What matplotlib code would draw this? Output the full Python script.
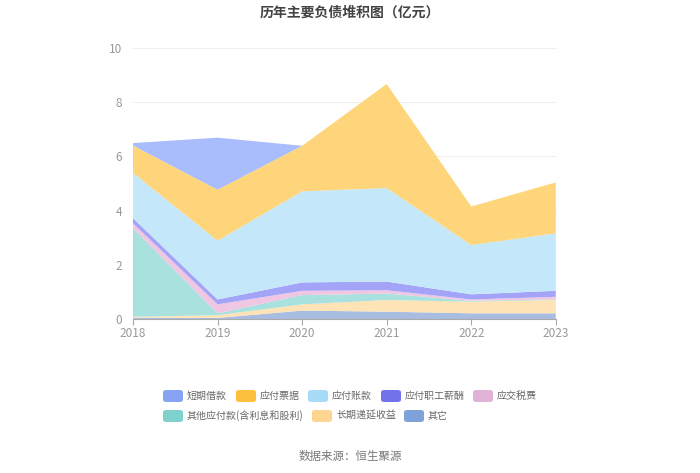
import numpy as np
import matplotlib
matplotlib.use('Agg')
import matplotlib.pyplot as plt
from matplotlib.patches import FancyBboxPatch

plt.rcParams['font.family'] = ['Noto Sans CJK SC', 'DejaVu Sans']

# 年份与各项负债（亿元），从下往上堆叠
anos = [2018, 2019, 2020, 2021, 2022, 2023]
qita = [0.05, 0.04, 0.31, 0.27, 0.21, 0.21]
diyan = [0.03, 0.10, 0.23, 0.43, 0.43, 0.49]
qita_yingfu = [3.27, 0.07, 0.34, 0.24, 0.03, 0.02]
shuifei = [0.18, 0.33, 0.16, 0.12, 0.05, 0.10]
xinchou = [0.19, 0.18, 0.31, 0.32, 0.19, 0.22]
zhangkuan = [1.67, 2.17, 3.36, 3.45, 1.82, 2.12]
piaoju = [1.01, 1.88, 1.68, 3.84, 1.42, 1.88]
duanqi = [0.09, 1.92, 0.0, 0.0, 0.0, 0.0]

nomes = ['其它', '长期递延收益', '其他应付款(含利息和股利)', '应交税费',
         '应付职工薪酬', '应付账款', '应付票据', '短期借款']
series = [qita, diyan, qita_yingfu, shuifei, xinchou, zhangkuan, piaoju, duanqi]
cores_area = ['#a8bde0', '#fde3b5', '#a9e1de', '#efc7e3',
              '#a3a3f7', '#c4e8fa', '#fed57a', '#a9bcfb']
cores_leg = ['#80a2d8', '#fdd591', '#7fd1cd', '#e1b3d9',
             '#7272ea', '#a6dcf8', '#fcc03e', '#86a3f4']

fig = plt.figure(figsize=(7.0, 4.73), dpi=100)
ax = fig.add_axes([0.19, 0.3256, 0.604, 0.573])

ax.stackplot(anos, *series, colors=cores_area, linewidth=0)

ax.set_xlim(2018, 2023)
ax.set_ylim(0, 10)
ax.set_xticks(anos)
ax.set_yticks([0, 2, 4, 6, 8, 10])
ax.grid(axis='y', color='#eeeeee', linewidth=0.8)
ax.set_axisbelow(True)
for s in ['top', 'right', 'left']:
    ax.spines[s].set_visible(False)
ax.spines['bottom'].set_color('#aaaaaa')
ax.tick_params(axis='y', length=0, labelcolor='#999999', labelsize=8.5, pad=8)
ax.tick_params(axis='x', length=4, color='#aaaaaa', labelcolor='#999999', labelsize=8.5, pad=2)

fig.text(0.5, 0.974, '历年主要负债堆积图（亿元）', ha='center', va='center',
         fontsize=10, fontweight='bold', color='#444444')
fig.text(0.5, 0.034, '数据来源：恒生聚源', ha='center', va='center',
         fontsize=8.3, color='#777777')

# 图例（手动排布，两行左对齐）
W, H = 700, 473
leg_itens = [
    ('短期借款', 7, 163, 396), ('应付票据', 6, 236, 396), ('应付账款', 5, 308, 396),
    ('应付职工薪酬', 4, 381, 396), ('应交税费', 3, 473, 396),
    ('其他应付款(含利息和股利)', 2, 163, 416), ('长期递延收益', 1, 312, 416), ('其它', 0, 404, 416),
]
for texto, i, px, py in leg_itens:
    p = FancyBboxPatch((px / W, 1 - (py + 6) / H), 20 / W, 12 / H,
                       boxstyle='round,pad=0,rounding_size=0.005',
                       transform=fig.transFigure, facecolor=cores_leg[i],
                       edgecolor='none')
    fig.patches.append(p)
    fig.text((px + 24) / W, 1 - py / H, texto, ha='left', va='center',
             fontsize=7.2, color='#666666')

fig.savefig('out.png', dpi=100)
